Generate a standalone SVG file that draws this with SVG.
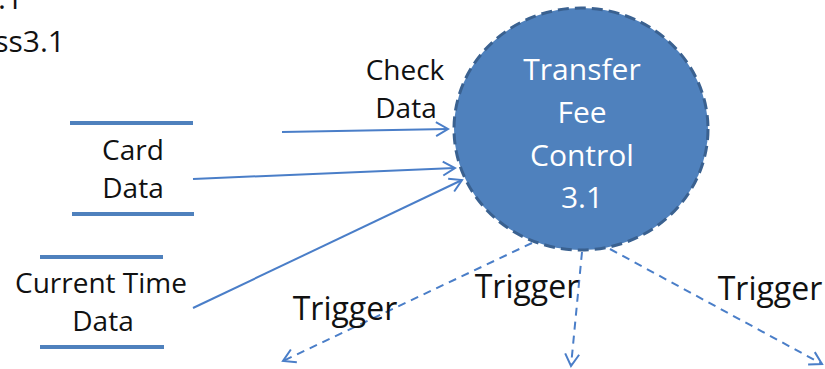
<svg xmlns="http://www.w3.org/2000/svg" width="825" height="369" viewBox="0 0 825 369">
<style>
text{font-family:"Open Sans","Noto Sans","DejaVu Sans",sans-serif;fill:#111}
.lbl{font-size:28px;text-anchor:middle}
.trg{font-size:32px;text-anchor:middle}
.proc{font-size:30px;fill:#fff;text-anchor:middle}
.store{stroke:#4F81BD;stroke-width:4;stroke-linecap:butt}
.flow{stroke:#4A7EC8;stroke-width:2;fill:none;marker-end:url(#ah)}
.trig{stroke:#4A7EC8;stroke-width:2;fill:none;stroke-dasharray:8 6;marker-end:url(#ah)}
</style>
<defs>
<marker id="ah" markerUnits="userSpaceOnUse" markerWidth="16" markerHeight="16" refX="13" refY="7" orient="auto" overflow="visible">
<path d="M1,0 L13,7 L1,14" fill="none" stroke="#4A7EC8" stroke-width="2"/>
</marker>
</defs>
<g id="title">
<text x="23" y="9" style="font-size:30px;text-anchor:end">3.1</text>
<text x="65" y="52" style="font-size:30px;text-anchor:end">Process3.1</text>
</g>
<g id="connectors">
<line class="flow" x1="282" y1="132" x2="448" y2="129"/>
<line class="flow" x1="193" y1="179" x2="455" y2="168"/>
<line class="flow" x1="193" y1="308" x2="462" y2="180"/>
<line class="trig" x1="532" y1="243" x2="283" y2="361"/>
<line class="trig" x1="582" y1="252" x2="571" y2="366"/>
<line class="trig" x1="610" y1="249" x2="822" y2="364"/>
<text class="lbl" x="405" y="80">Check</text>
<text class="lbl" x="406" y="118">Data</text>
<text class="trg" x="345" y="320">Trigger</text>
<text class="trg" x="527" y="298">Trigger</text>
<text class="trg" x="770" y="300">Trigger</text>
</g>
<g id="process">
<ellipse cx="581" cy="129" rx="127" ry="121" fill="#4F81BD" stroke="#3A6190" stroke-width="3" stroke-dasharray="11 6"/>
<text class="proc" x="582" y="80">Transfer</text>
<text class="proc" x="582" y="123">Fee</text>
<text class="proc" x="582" y="166">Control</text>
<text class="proc" x="582" y="208">3.1</text>
</g>
<g id="card-data">
<line class="store" x1="70" y1="123" x2="193" y2="123"/>
<line class="store" x1="72" y1="214" x2="194" y2="214"/>
<text class="lbl" x="133" y="160">Card</text>
<text class="lbl" x="133" y="198">Data</text>
</g>
<g id="current-time-data">
<line class="store" x1="40" y1="257" x2="163" y2="257"/>
<line class="store" x1="40" y1="347" x2="164" y2="347"/>
<text class="lbl" x="101" y="293">Current Time</text>
<text class="lbl" x="103" y="331">Data</text>
</g>
</svg>
